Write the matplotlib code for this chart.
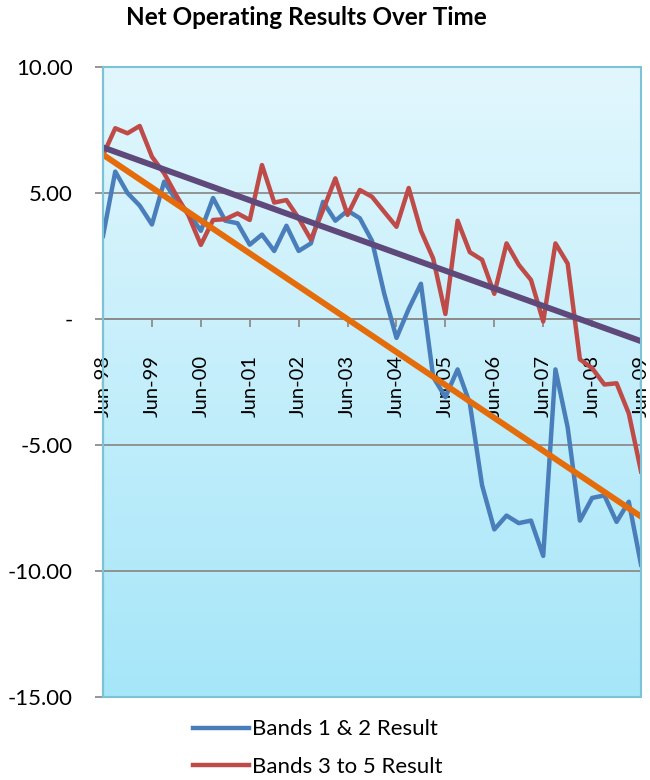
import numpy as np
import matplotlib.pyplot as plt
from matplotlib.patches import Rectangle
from matplotlib.colors import LinearSegmentedColormap

plt.rcParams['font.family'] = ['Lato', 'DejaVu Sans']

# Quarterly results, Jun-98 to Jun-09
years = ['Jun-98', 'Jun-99', 'Jun-00', 'Jun-01', 'Jun-02', 'Jun-03',
         'Jun-04', 'Jun-05', 'Jun-06', 'Jun-07', 'Jun-08', 'Jun-09']

bands_1_2 = [3.3, 5.85, 5.0, 4.5, 3.75, 5.45, 4.7, 4.2, 3.5, 4.8,
             3.9, 3.8, 2.95, 3.35, 2.7, 3.7, 2.7, 3.0, 4.65, 3.9,
             4.3, 4.0, 3.1, 1.0, -0.75, 0.4, 1.4, -2.3, -3.1, -2.0,
             -3.35, -6.6, -8.35, -7.8, -8.1, -8.0, -9.4, -2.0, -4.3, -8.0,
             -7.1, -7.0, -8.05, -7.25, -9.75]

bands_3_5 = [6.5, 7.57, 7.37, 7.66, 6.44, 5.78, 4.9, 4.1, 2.94, 3.93,
             3.96, 4.19, 3.93, 6.11, 4.62, 4.72, 4.0, 3.15, 4.33, 5.58,
             4.13, 5.12, 4.85, 4.25, 3.66, 5.2, 3.5, 2.4, 0.2, 3.9,
             2.65, 2.35, 1.0, 3.0, 2.15, 1.55, -0.1, 3.0, 2.2, -1.6,
             -1.95, -2.6, -2.55, -3.75, -6.05]

# linear trend values at first and last quarter
trend_1_2 = [6.52, -7.84]
trend_3_5 = [6.81, -0.88]

x = np.arange(len(bands_1_2))
x_ends = [x[0], x[-1]]

fig = plt.figure(figsize=(6.5, 7.8), dpi=100)
ax = fig.add_axes([0.1585, 0.1064, 0.8277, 0.8077])

# light cyan gradient behind the plot area
cmap = LinearSegmentedColormap.from_list('bg', ['#a6e6f9', '#e2f7fd'])
ax.imshow(np.linspace(0, 1, 256).reshape(-1, 1), cmap=cmap, origin='lower',
          extent=[0, 1, 0, 1], transform=ax.transAxes, aspect='auto', zorder=0)

ax.set_xlim(0, len(x) - 1)
ax.set_ylim(-15, 10)

for g in [10, 5, 0, -5, -10]:
    ax.axhline(g, color='#8c8c8c', lw=1.3, zorder=1)

l1, = ax.plot(x, bands_1_2, color='#4a7ebb', lw=3.2, zorder=3, label='Bands 1 & 2 Result')
l2, = ax.plot(x, bands_3_5, color='#be4b48', lw=3.2, zorder=3, label='Bands 3 to 5 Result')

ax.plot(x_ends, trend_1_2, color='#e46c0a', lw=4.3, zorder=4)
ax.plot(x_ends, trend_3_5, color='#5f497a', lw=4.3, zorder=4)

# axes styling
ax.spines['bottom'].set_position(('data', 0))
ax.spines['bottom'].set_color('#8c8c8c')
ax.spines['bottom'].set_linewidth(1.3)
ax.spines['left'].set_color('#8c8c8c')
ax.spines['left'].set_linewidth(1.5)
ax.spines['top'].set_visible(False)
ax.spines['right'].set_visible(False)
ax.add_patch(Rectangle((0, 0), 1, 1, transform=ax.transAxes, fill=False,
                       edgecolor='#7cc3d6', lw=1.5, zorder=5, clip_on=False))

ax.set_xticks(np.arange(0, len(x), 4))
ax.set_xticklabels(years, rotation=90, fontsize=14.5)
ax.tick_params(axis='x', direction='out', length=6, color='#8c8c8c', width=1.3, pad=20)

ax.set_yticks([10, 5, 0, -5, -10, -15])
ax.set_yticklabels(['10.00', '5.00', '-', '-5.00', '-10.00', '-15.00'], fontsize=16)
ax.tick_params(axis='y', direction='out', length=6, color='#8c8c8c', width=1.3, pad=16)

fig.text(0.471, 0.977, 'Net Operating Results Over Time', ha='center', va='center',
         fontsize=17.5, fontweight='bold')

fig.legend(handles=[l1, l2], loc='upper center', bbox_to_anchor=(0.489, 0.092),
           frameon=False, fontsize=16, handlelength=2.5, handletextpad=0.15,
           labelspacing=0.8, borderpad=0)

fig.savefig('out.png', dpi=100, facecolor='white')
